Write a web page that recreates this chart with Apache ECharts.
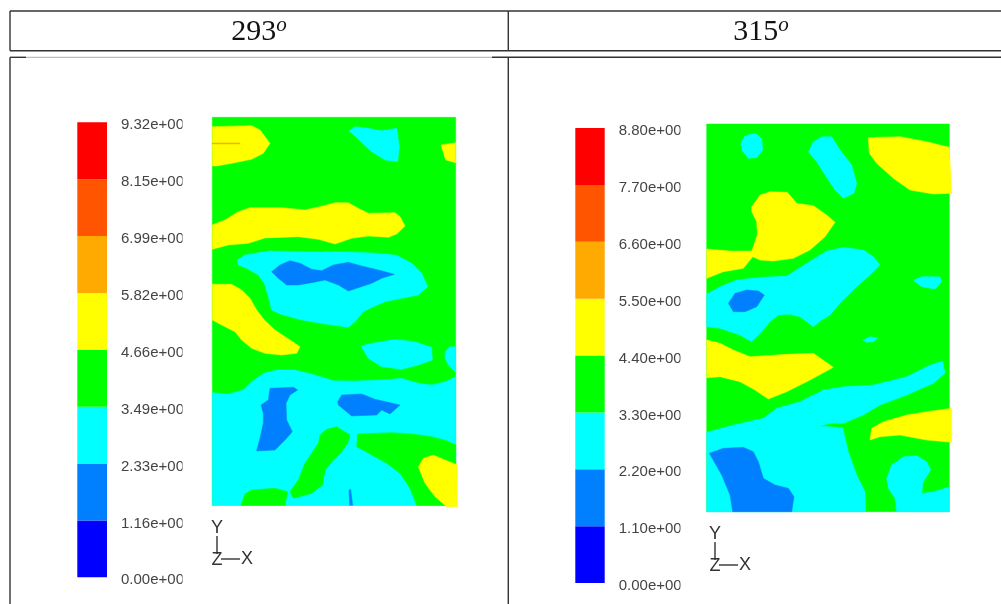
<!DOCTYPE html>
<html>
<head>
<meta charset="utf-8">
<style>html,body{margin:0;padding:0;background:#fff}#c{width:1001px;height:604px;filter:blur(0.45px)}</style>
<script src="https://cdn.jsdelivr.net/npm/echarts@6/dist/echarts.min.js"></script>
</head>
<body>
<div id="c"></div>
<script>
// Column headings
const panelAngles = ['293', '315'];

// Colour bar levels (bottom to top)
const levelColors = ['#0000ff', '#0080ff', '#00ffff', '#00ff00', '#ffff00', '#ffaa00', '#ff5500', '#ff0000'];
const ticksA = [0, 1.165, 2.33, 3.495, 4.66, 5.825, 6.99, 8.155, 9.32];
const tickLabelsA = ['0.00e+00', '1.16e+00', '2.33e+00', '3.49e+00', '4.66e+00', '5.82e+00', '6.99e+00', '8.15e+00', '9.32e+00'];
const ticksB = [0, 1.1, 2.2, 3.3, 4.4, 5.5, 6.6, 7.7, 8.8];
const tickLabelsB = ['0.00e+00', '1.10e+00', '2.20e+00', '3.30e+00', '4.40e+00', '5.50e+00', '6.60e+00', '7.70e+00', '8.80e+00'];

// Plate extents, in plate units
const extentA = { x: [22, 752], y: [22, 1186] };
const extentB = { x: [20, 748], y: [27, 1190] };

// Contour regions of the 293 plate, in plate units
const cyanA = [
  [[432,62],[450,50],[490,55],[530,62],[575,55],[583,110],[578,155],[540,150],[500,125]],
  [[97,450],[120,435],[190,423],[300,425],[420,425],[520,430],[575,436],[620,460],[650,490],[668,530],[640,555],[590,565],[540,575],[505,590],[475,605],[450,635],[430,652],[360,642],[290,630],[225,612],[200,600],[190,560],[178,520],[160,495],[125,475],[100,465]],
  [[468,708],[500,700],[570,688],[630,695],[680,712],[682,750],[640,765],[590,778],[530,770],[490,745]],
  [[720,725],[735,710],[752,710],[752,788],[730,765],[720,745]],
  [[22,848],[70,852],[115,840],[140,815],[175,790],[215,780],[270,780],[330,795],[385,812],[450,813],[530,810],[590,805],[640,820],[680,825],[720,815],[752,800],[752,1186],[22,1186]]
];
const greenIslandsA = [
  [[458,972],[560,968],[620,972],[680,980],[725,992],[752,1005],[752,1186],[635,1186],[615,1135],[585,1090],[545,1060],[495,1032],[455,1010]],
  [[345,975],[365,958],[395,950],[435,975],[430,995],[410,1025],[385,1050],[360,1080],[352,1125],[320,1150],[265,1165],[255,1145],[280,1110],[300,1060],[320,1030],[340,1000]],
  [[108,1186],[120,1152],[140,1140],[210,1135],[248,1145],[240,1186]]
];
const yellowA = [
  [[22,50],[140,47],[165,60],[195,100],[175,130],[140,148],[80,160],[35,168],[22,168]],
  [[708,105],[752,98],[752,158],[722,150]],
  [[22,345],[60,330],[100,305],[135,293],[230,293],[300,300],[345,290],[390,278],[430,278],[465,298],[490,310],[570,308],[585,320],[600,348],[575,372],[550,382],[490,378],[440,385],[390,402],[340,388],[280,380],[180,384],[130,400],[70,405],[22,418]],
  [[22,523],[80,523],[110,540],[135,565],[155,600],[178,630],[210,660],[255,690],[285,710],[275,730],[230,735],[180,730],[140,715],[110,690],[90,665],[50,645],[22,630]],
  [[640,1070],[655,1045],[685,1035],[720,1050],[757,1065],[757,1190],[725,1190],[690,1160],[660,1120]]
];
const blueA = [
  [[200,485],[225,465],[255,452],[285,460],[320,478],[350,482],[385,465],[430,457],[470,468],[520,480],[568,493],[530,505],[500,520],[430,543],[400,525],[360,510],[320,518],[280,525],[245,525],[220,505]],
  [[195,835],[265,832],[278,840],[255,855],[243,880],[245,930],[262,965],[240,990],[210,1020],[155,1023],[165,985],[175,940],[175,910],[168,885],[190,870]],
  [[410,855],[470,852],[510,868],[585,885],[555,912],[530,900],[515,915],[440,918],[400,885],[398,875]],
  [[434,1186],[432,1140],[437,1138],[443,1186]]
];
const orangeA = [
  [[22,99],[105,99],[105,102],[22,102]]
];

// Contour regions of the 315 plate, in plate units
const cyanB = [
  [[122,85],[135,62],[165,55],[185,70],[188,105],[170,128],[145,130],[125,105]],
  [[325,110],[340,80],[365,65],[395,65],[420,105],[455,150],[470,205],[462,235],[430,250],[405,225],[375,180],[350,140]],
  [[20,537],[60,515],[110,495],[180,487],[260,483],[320,445],[380,408],[430,397],[490,405],[520,425],[540,450],[510,480],[470,515],[420,565],[390,600],[365,615],[340,635],[300,605],[270,598],[235,600],[210,620],[185,650],[155,680],[120,660],[60,640],[20,635]],
  [[640,495],[665,485],[720,485],[725,500],[705,522],[665,515]],
  [[488,675],[510,665],[533,668],[520,680],[500,682]],
  [[20,952],[100,930],[190,910],[230,880],[300,860],[370,825],[430,815],[520,810],[620,785],[690,750],[728,738],[735,775],[700,805],[620,840],[540,870],[490,900],[430,925],[390,925],[360,933],[428,938],[445,1010],[470,1080],[495,1130],[497,1190],[20,1190]],
  [[560,1090],[575,1050],[610,1025],[650,1022],[680,1040],[692,1065],[670,1100],[665,1135],[700,1130],[735,1120],[748,1115],[748,1190],[590,1190],[585,1150],[565,1120]]
];
const yellowB = [
  [[505,68],[600,65],[680,80],[748,97],[755,235],[700,237],[630,225],[580,190],[530,145],[508,115]],
  [[155,275],[180,240],[210,230],[262,232],[290,265],[340,272],[380,300],[405,322],[375,365],[330,405],[280,430],[220,438],[180,435],[158,425],[130,460],[70,470],[20,490],[20,402],[90,408],[155,408],[172,360],[170,320],[155,290]],
  [[20,675],[60,685],[100,705],[150,725],[260,718],[340,715],[400,757],[330,795],[260,830],[205,852],[165,825],[120,800],[60,785],[20,788]],
  [[510,975],[515,940],[550,920],[620,900],[680,890],[755,880],[755,982],[680,975],[600,960],[540,965]]
];
const blueB = [
  [[85,565],[105,535],[140,525],[175,528],[193,540],[170,575],[135,590],[100,590]],
  [[28,1015],[70,1000],[130,997],[160,1010],[175,1040],[190,1090],[225,1110],[265,1120],[282,1145],[275,1190],[98,1190],[90,1140],[65,1080],[45,1045]]
];

const GREEN = levelColors[3], CYAN = levelColors[2], YELLOW = levelColors[4], BLUE = levelColors[1], ORANGE = levelColors[5];
const rectOf = e => [[e.x[0], e.y[0]], [e.x[1], e.y[0]], [e.x[1], e.y[1]], [e.x[0], e.y[1]]];
const tag = (polys, color) => polys.map(p => ({ p, color }));
const regionsA = [].concat(tag([rectOf(extentA)], GREEN), tag(cyanA, CYAN), tag(greenIslandsA, GREEN), tag(yellowA, YELLOW), tag(orangeA, ORANGE), tag(blueA, BLUE));
const regionsB = [].concat(tag([rectOf(extentB)], GREEN), tag(cyanB, CYAN), tag(yellowB, YELLOW), tag(blueB, BLUE));

function contourSeries(regions, idx) {
  return {
    type: 'custom', xAxisIndex: idx, yAxisIndex: idx, silent: true, clip: false,
    coordinateSystem: 'cartesian2d', animation: false,
    data: regions.map((r, i) => [i]),
    renderItem(params, api) {
      const r = regions[api.value(0)];
      return {
        type: 'polygon',
        shape: { points: r.p.map(q => api.coord(q)) },
        style: { fill: r.color, stroke: r.color, lineWidth: 0.5, lineJoin: 'round' }
      };
    }
  };
}
function barSeries(ticks, idx) {
  return levelColors.map((c, i) => ({
    type: 'bar', stack: 'bar' + idx, xAxisIndex: idx, yAxisIndex: idx, barWidth: '100%',
    silent: true, animation: false,
    itemStyle: { color: c },
    data: [ticks[i + 1] - ticks[i]]
  }));
}
const hiddenVal = (e, inv) => ({ type: 'value', min: e[0], max: e[1], inverse: !!inv, show: false, scale: true });
const barValAxis = (ticks, labels, idx) => ({
  type: 'value', gridIndex: idx, position: 'right', min: 0, max: ticks[8], interval: ticks[8] / 8,
  axisLine: { show: false }, axisTick: { show: false }, splitLine: { show: false },
  axisLabel: {
    show: true, margin: 14, showMinLabel: true, showMaxLabel: true, hideOverlap: false,
    fontFamily: 'Liberation Sans', fontSize: 15, color: '#444', verticalAlign: 'top', lineHeight: 6,
    formatter: (v, i) => labels[Math.round(v / (ticks[8] / 8))]
  }
});
const barCatAxis = idx => ({ type: 'category', gridIndex: idx, data: ['level'], show: false });

const lineStyle = { stroke: '#333', lineWidth: 1.4 };
const hLine = (x1, x2, y, s) => ({ type: 'line', shape: { x1, y1: y, x2, y2: y }, style: s || lineStyle, silent: true, z: 50 });
const vLine = (x, y1, y2) => ({ type: 'line', shape: { x1: x, y1, x2: x, y2 }, style: lineStyle, silent: true, z: 50 });
const triadText = (text, x, y) => ({ type: 'text', x, y, style: { text, fill: '#333', font: '18px "Liberation Sans"', textAlign: 'center', textVerticalAlign: 'middle' }, silent: true, z: 50 });
const triad = (x, y, xEnd) => [
  vLine(x, y + 8, y + 26), hLine(x + 4, xEnd, y + 31),
  triadText('Y', x, y), triadText('Z', x, y + 32), triadText('X', xEnd + 7, y + 31)
];
const mask = (x, y, h) => ({ type: 'rect', shape: { x, y, width: 3, height: h }, style: { fill: '#fff' }, silent: true, z: 60 });
const titleRich = {
  n: { fontFamily: 'Liberation Serif', fontWeight: 'normal', fontSize: 30, color: '#111', lineHeight: 34 },
  s: { fontFamily: 'Liberation Serif', fontWeight: 'normal', fontStyle: 'italic', fontSize: 21, color: '#111', lineHeight: 34, verticalAlign: 'top', padding: [0, 0, 6, 0] }
};

const chart = echarts.init(document.getElementById('c'), null, { renderer: 'canvas' });
chart.setOption({
  backgroundColor: '#fff',
  animation: false,
  title: panelAngles.map((t, i) => ({
    text: '{n|' + t + '}{s|o}', left: [254, 756][i], top: 10, textAlign: 'center',
    textStyle: { rich: titleRich }
  })),
  grid: [
    { left: 212.3, top: 117.3, width: 243.4, height: 388, containLabel: false },
    { left: 706.7, top: 124, width: 242.6, height: 387.7, containLabel: false },
    { left: 77.3, top: 122.3, width: 29.7, height: 455, containLabel: false },
    { left: 575.3, top: 128, width: 29.4, height: 455, containLabel: false }
  ],
  xAxis: [
    Object.assign(hiddenVal(extentA.x), { gridIndex: 0 }),
    Object.assign(hiddenVal(extentB.x), { gridIndex: 1 }),
    barCatAxis(2), barCatAxis(3)
  ],
  yAxis: [
    Object.assign(hiddenVal(extentA.y, true), { gridIndex: 0 }),
    Object.assign(hiddenVal(extentB.y, true), { gridIndex: 1 }),
    barValAxis(ticksA, tickLabelsA, 2), barValAxis(ticksB, tickLabelsB, 3)
  ],
  series: [
    contourSeries(regionsA, 0), contourSeries(regionsB, 1),
    ...barSeries(ticksA, 2), ...barSeries(ticksB, 3)
  ],
  graphic: [
    hLine(10, 1001, 11), hLine(10, 1001, 50.7),
    vLine(10, 11, 50.7), vLine(508.3, 11, 50.7),
    hLine(10, 26, 57.3), hLine(26, 492, 57.3, { stroke: '#bbb', lineWidth: 1.2 }), hLine(492, 1001, 57.3),
    vLine(10, 57.3, 604), vLine(508.3, 57.3, 604),
    ...triad(217, 528, 240),
    ...triad(715, 534, 738),
    ...tickLabelsA.map((_, i) => mask(182.5, 117 + i * 56.875, 15)),
    ...tickLabelsB.map((_, i) => mask(680.5, 123 + i * 56.875, 15))
  ]
});
</script>
</body>
</html>
